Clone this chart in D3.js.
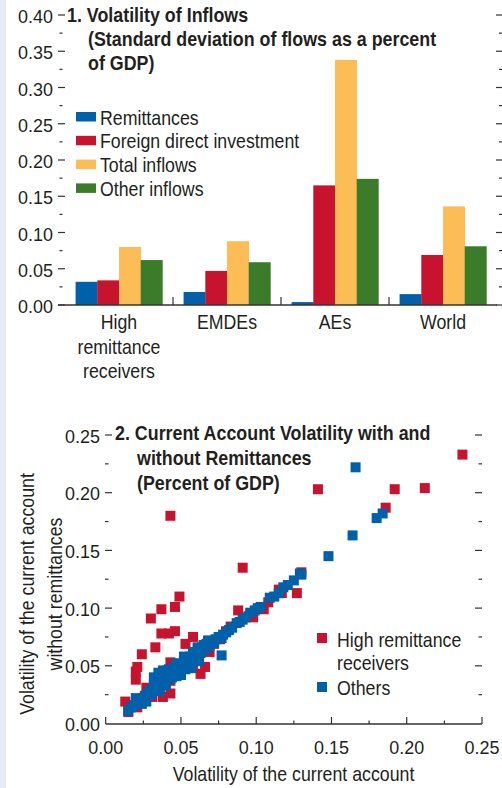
<!DOCTYPE html>
<html><head><meta charset="utf-8">
<script src="https://cdn.jsdelivr.net/npm/d3@7"></script>
<style>
html,body{margin:0;padding:0;background:#fff;}
svg{display:block;}
text{font-family:"Liberation Sans",Arial,sans-serif;}
</style></head><body>
<script>
// ---------- Panel 1 data ----------
const categories = [["High","remittance","receivers"],["EMDEs"],["AEs"],["World"]];
const seriesNames = ["Remittances","Foreign direct investment","Total inflows","Other inflows"];
const remittances = [0.032, 0.018, 0.004, 0.015];
const fdi = [0.034, 0.047, 0.165, 0.069];
const totalInflows = [0.080, 0.088, 0.338, 0.136];
const otherInflows = [0.062, 0.059, 0.174, 0.081];
const barTicks = [0.00,0.05,0.10,0.15,0.20,0.25,0.30,0.35,0.40];

// ---------- Panel 2 data ----------
const highRemit = [
 [0.237,0.233],[0.192,0.203],[0.212,0.204],[0.186,0.187],[0.141,0.203],[0.043,0.180],
 [0.091,0.135],[0.130,0.131],[0.115,0.116],[0.127,0.113],[0.105,0.099],[0.088,0.098],
 [0.098,0.092],[0.083,0.084],[0.069,0.062],[0.049,0.110],[0.037,0.099],[0.046,0.101],
 [0.030,0.091],[0.037,0.078],[0.042,0.078],[0.046,0.080],[0.058,0.075],[0.053,0.069],
 [0.033,0.066],[0.024,0.060],[0.020,0.045],[0.021,0.049],[0.020,0.038],[0.043,0.053],
 [0.063,0.043],[0.066,0.049],[0.043,0.026],[0.013,0.019],[0.015,0.010],[0.021,0.014],
 [0.031,0.023],[0.038,0.023],[0.027,0.031],[0.043,0.037],[0.058,0.049],[0.062,0.058],
 [0.072,0.069],[0.080,0.080],[0.095,0.093],[0.108,0.105],[0.117,0.113],[0.035,0.030],
 [0.025,0.022],[0.050,0.045],[0.056,0.052],[0.076,0.073],[0.018,0.016],[0.039,0.035]
];
const others = [
 [0.015,0.011],[0.017,0.014],[0.019,0.016],[0.021,0.018],[0.023,0.020],[0.020,0.022],
 [0.025,0.021],[0.026,0.024],[0.028,0.026],[0.030,0.025],[0.029,0.028],[0.031,0.030],
 [0.033,0.029],[0.034,0.032],[0.032,0.034],[0.036,0.033],[0.035,0.036],[0.037,0.038],
 [0.039,0.036],[0.040,0.040],[0.038,0.042],[0.041,0.043],[0.043,0.039],[0.044,0.045],
 [0.042,0.047],[0.046,0.044],[0.045,0.048],[0.047,0.046],[0.048,0.050],[0.050,0.047],
 [0.049,0.052],[0.051,0.050],[0.052,0.054],[0.054,0.051],[0.053,0.056],[0.055,0.055],
 [0.057,0.053],[0.056,0.058],[0.058,0.057],[0.060,0.056],[0.059,0.060],[0.061,0.062],
 [0.063,0.061],[0.062,0.065],[0.064,0.066],[0.066,0.064],[0.065,0.068],[0.067,0.069],
 [0.069,0.067],[0.070,0.071],[0.072,0.070],[0.073,0.073],[0.075,0.075],[0.077,0.074],
 [0.078,0.077],[0.077,0.059],[0.080,0.079],[0.082,0.081],[0.084,0.083],[0.087,0.087],
 [0.089,0.088],[0.091,0.090],[0.093,0.092],[0.096,0.096],[0.099,0.098],[0.101,0.100],
 [0.103,0.101],[0.109,0.109],[0.112,0.110],[0.115,0.113],[0.118,0.118],[0.121,0.120],
 [0.125,0.124],[0.129,0.130],[0.130,0.129],[0.148,0.145],[0.164,0.163],[0.166,0.222],
 [0.180,0.178],[0.184,0.182],[0.032,0.040],[0.035,0.044],[0.038,0.046],
 [0.036,0.028],[0.040,0.033],[0.044,0.040],[0.047,0.041],[0.050,0.042],[0.053,0.047],
 [0.041,0.046],[0.047,0.052],[0.052,0.058],[0.058,0.062],[0.061,0.066],[0.068,0.072],
 [0.027,0.019],[0.024,0.017],[0.057,0.048],[0.062,0.054]
];
const scatterTicks = [0.00,0.05,0.10,0.15,0.20,0.25];
const scatterLegend = ["High remittance","receivers","Others"];

const colors = ["#0060aa","#c8132f","#fcbd56","#3b7c2b"];
const txt = "#231f20", axc = "#333";

const W = 502, H = 788;
const svg = d3.select("body").append("svg").attr("width",W).attr("height",H);
svg.append("rect").attr("x",0).attr("y",0).attr("width",6).attr("height",H).attr("fill","#e5ecf6");

function label(g, str, x, y, opts={}) {
  const t = g.append("text").attr("x",x).attr("y",y)
    .attr("font-size", (opts.size||21)+"px").attr("fill",txt)
    .attr("text-anchor", opts.anchor||"start")
    .attr("font-weight", opts.bold?"bold":"normal").text(str);
  if (opts.transform) t.attr("transform", opts.transform);
  const k = opts.k===undefined ? (opts.bold?0.85:0.845) : opts.k;
  if (k !== 1) {
    const w = t.node().getComputedTextLength();
    t.attr("textLength", w*k).attr("lengthAdjust","spacingAndGlyphs");
  }
  return t;
}

// ================= Panel 1 =================
const y1 = d3.scaleLinear().domain([0,0.4]).range([305,15]);
const x0 = d3.scaleBand().domain(d3.range(categories.length)).range([65,497]).paddingInner(0).paddingOuter(0);
const x1 = d3.scaleBand().domain(d3.range(seriesNames.length)).range([0,x0.bandwidth()]).paddingInner(0).paddingOuter(0.488);
const seriesVals = [remittances, fdi, totalInflows, otherInflows];

const g1 = svg.append("g");
categories.forEach((c,ci)=>{
  seriesVals.forEach((vals,si)=>{
    g1.append("rect")
      .attr("x", x0(ci)+x1(si)).attr("width", x1.bandwidth()+0.3)
      .attr("y", y1(vals[ci])).attr("height", y1(0)-y1(vals[ci]))
      .attr("fill", colors[si]);
  });
});
const minor1 = d3.range(0,0.4001,0.025);
minor1.forEach(v=>{
  const major = Math.abs(v*20 - Math.round(v*20))<1e-6;
  g1.append("line").attr("x1", major?58:59.5).attr("x2", major?65:62.5)
    .attr("y1", y1(v)).attr("y2", y1(v)).attr("stroke",axc).attr("stroke-width",1.2);
  g1.append("line").attr("x1", major?496:499).attr("x2", 502)
    .attr("y1", y1(v)).attr("y2", y1(v)).attr("stroke",axc).attr("stroke-width",1.2);
});
barTicks.forEach(d=>label(g1, d.toFixed(2), 53, y1(d)+8, {size:18.5, anchor:"end", k:0.97}));
g1.append("line").attr("x1",58).attr("x2",497).attr("y1",305).attr("y2",305).attr("stroke",axc).attr("stroke-width",1.6);
d3.range(1,categories.length).forEach(i=>{
  g1.append("line").attr("x1",x0(i)).attr("x2",x0(i)).attr("y1",305).attr("y2",297).attr("stroke",axc).attr("stroke-width",1.2);
});
categories.forEach((lines,ci)=>{
  lines.forEach((l,li)=>label(g1, l, x0(ci)+x0.bandwidth()/2, 329 + li*24.5, {anchor:"middle"}));
});
const t1 = ["1. Volatility of Inflows","(Standard deviation of flows as a percent","of GDP)"];
t1.forEach((l,i)=>label(g1, l, i===0?67:88, 22 + i*24, {bold:true}));
seriesNames.forEach((s,i)=>{
  g1.append("rect").attr("x",76).attr("y",112+i*23.8).attr("width",20).attr("height",9.5).attr("fill",colors[i]);
  label(g1, s, 100, 124.5+i*23.8);
});

// ================= Panel 2 =================
const xs = d3.scaleLinear().domain([0,0.25]).range([105.7,482]);
const ys = d3.scaleLinear().domain([0,0.25]).range([723.5,435]);
const g2 = svg.append("g");
const sq = 10;
g2.selectAll("rect.hr").data(highRemit).join("rect").attr("class","hr")
  .attr("x",d=>xs(d[0])-sq/2).attr("y",d=>ys(d[1])-sq/2).attr("width",sq).attr("height",sq).attr("fill",colors[1]);
g2.selectAll("rect.ot").data(others).join("rect").attr("class","ot")
  .attr("x",d=>xs(d[0])-sq/2).attr("y",d=>ys(d[1])-sq/2).attr("width",sq).attr("height",sq).attr("fill",colors[0]);

const minor2 = d3.range(0,0.2501,0.025);
minor2.forEach(v=>{
  const major = Math.abs(v*20 - Math.round(v*20))<1e-6;
  if (v>0) {
    g2.append("line").attr("x1",105).attr("x2", major?112:108.5).attr("y1",ys(v)).attr("y2",ys(v)).attr("stroke",axc).attr("stroke-width",1.2);
    g2.append("line").attr("x1", major?475:478.5).attr("x2",482).attr("y1",ys(v)).attr("y2",ys(v)).attr("stroke",axc).attr("stroke-width",1.2);
  }
  g2.append("line").attr("x1",xs(v)).attr("x2",xs(v)).attr("y1",724).attr("y2", major?717:720.5).attr("stroke",axc).attr("stroke-width",1.2);
});
g2.append("line").attr("x1",105.7).attr("x2",482).attr("y1",724).attr("y2",724).attr("stroke",axc).attr("stroke-width",1.6);
scatterTicks.forEach(d=>label(g2, d.toFixed(2), 100, ys(d)+7.5, {size:18.5, anchor:"end", k:0.97}));
scatterTicks.forEach(d=>label(g2, d.toFixed(2), xs(d), 754, {size:18.5, anchor:"middle", k:0.97}));
label(g2, "Volatility of the current account", 293.5, 781, {anchor:"middle"});
label(g2, "Volatility of the current account", 0, 34, {anchor:"middle", transform:"translate(0,594) rotate(-90)"});
label(g2, "without remittances", 0, 62, {anchor:"middle", transform:"translate(0,594) rotate(-90)"});
const t2 = ["2. Current Account Volatility with and","without Remittances","(Percent of GDP)"];
t2.forEach((l,i)=>label(g2, l, i===0?115:137, 440 + i*25, {bold:true}));
g2.append("rect").attr("x",317).attr("y",633).attr("width",10).attr("height",10).attr("fill",colors[1]);
label(g2, scatterLegend[0], 337, 647);
label(g2, scatterLegend[1], 337, 670);
g2.append("rect").attr("x",317).attr("y",682).attr("width",10).attr("height",10).attr("fill",colors[0]);
label(g2, scatterLegend[2], 337, 695);
</script>
</body></html>
